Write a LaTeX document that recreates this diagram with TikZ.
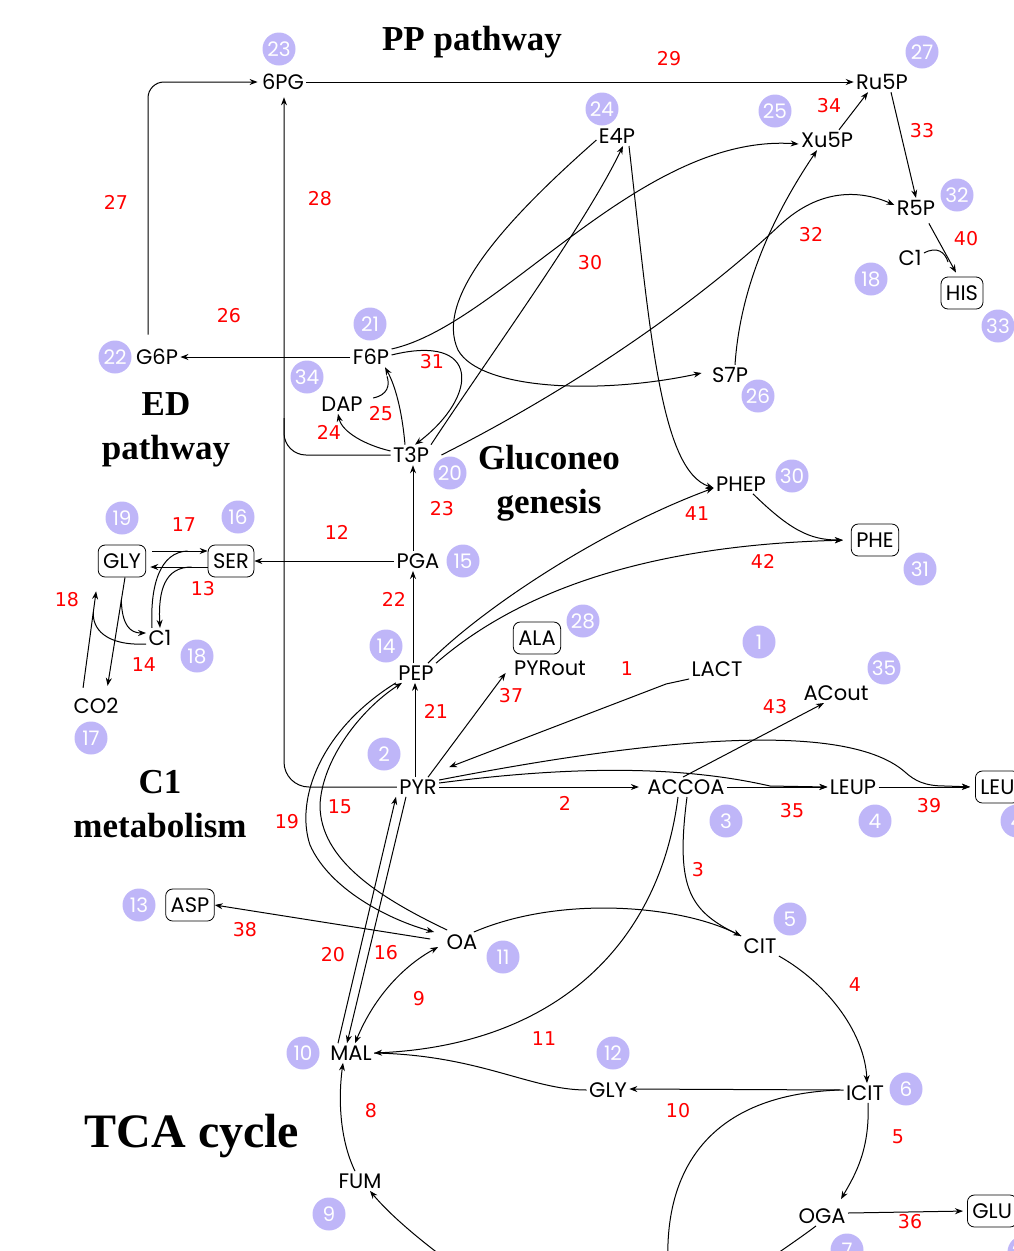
\documentclass[tikz,border=0pt]{standalone}
\usepackage{fontspec}
\setmainfont{Liberation Serif}
\newfontfamily\metfont{Poppins}
\newfontfamily\numfont{DejaVu Sans}
\usepackage{tikz}
\usetikzlibrary{arrows.meta}
\definecolor{idpurple}{RGB}{191,182,248}

\tikzset{
    met/.style={font=\metfont\fontsize{21}{21}\selectfont, inner sep=2pt},
    aa/.style={met, draw, rounded corners=7pt, inner xsep=5pt, minimum height=32pt, line width=0.8pt},
    rxn/.style={font=\numfont\fontsize{19}{19}\selectfont, text=red},
    idx/.style={circle, fill=idpurple, minimum size=33pt, inner sep=0pt, text=white, font=\metfont\fontsize{20}{20}\selectfont},
    title/.style={font=\bfseries\fontsize{35}{44}\selectfont, align=center},
    flux/.style={-{Stealth[length=8pt,width=6pt]}},
    rev/.style={{Stealth[length=8pt,width=6pt]}-{Stealth[length=8pt,width=6pt]}},
}

\begin{document}
\begin{tikzpicture}[x=1pt, y=-1pt, line width=1pt]
    \useasboundingbox (0,0) rectangle (1014,1251);
    \clip (0,0) rectangle (1014,1251);

    % Section titles
    \node[title] (ttlpp) at (472,42) {PP pathway};
    \node[title] (ttled) at (166,430) {ED\\pathway};
    \node[title] (ttlglc) at (549,483) {Gluconeo\\genesis};
    \node[title] (ttlcone) at (160,804) {C1\\metabolism};
    \node[title, font=\bfseries\fontsize{48}{48}\selectfont] (ttltca) at (192,1136) {TCA cycle};

    % Purple index circles
    \foreach \n/\x/\y [count=\k] in {23/279/49, 27/922/52, 24/602/109, 25/775/111, 32/957/195,
        18/871/279, 33/998/326, 21/370/324, 22/115/357, 34/307/377, 26/758/396, 20/450/473,
        30/792/476, 19/122/518, 16/238/517, 15/463/561, 31/920/569, 28/583/621, 1/759/642,
        14/386/646, 18/197/656, 35/884/668, 17/91/738, 2/384/754, 3/726/821, 4/875/821,
        4/1017/821, 5/790/919, 13/139/905, 11/503/957, 10/303/1053, 12/613/1053, 6/906/1089,
        9/329/1214, 7/847/1250, 29/1024/1252}
        \node[idx] (id\k) at (\x,\y) {\n};

    % Metabolites
    \node[met] (pg6) at (283,82) {6PG};
    \node[met] (ru5p) at (882,82) {Ru5P};
    \node[met] (e4p) at (617,136) {E4P};
    \node[met] (xu5p) at (827,140) {Xu5P};
    \node[met] (r5p) at (916,208) {R5P};
    \node[met] (c1a) at (910,258) {C1};
    \node[aa] (his) at (962,293) {HIS};
    \node[met] (g6p) at (157,357) {G6P};
    \node[met] (f6p) at (371,357) {F6P};
    \node[met] (s7p) at (730,375) {S7P};
    \node[met] (dap) at (342,404) {DAP};
    \node[met] (t3p) at (411,455) {T3P};
    \node[met] (phep) at (741,484) {PHEP};
    \node[aa] (phe) at (875,540) {PHE};
    \node[aa] (gly) at (122,561) {GLY};
    \node[aa] (ser) at (231,561) {SER};
    \node[met] (pga) at (418,561) {PGA};
    \node[met] (c1) at (160,638) {C1};
    \node[aa] (ala) at (537,638) {ALA};
    \node[met] (pyrout) at (550,668) {PYRout};
    \node[met] (lact) at (717,669) {LACT};
    \node[met] (pep) at (416,673) {PEP};
    \node[met] (acout) at (836,693) {ACout};
    \node[met] (co2) at (96,706) {CO2};
    \node[met] (pyr) at (418,787) {PYR};
    \node[met] (accoa) at (686,787) {ACCOA};
    \node[met] (leup) at (853,787) {LEUP};
    \node[aa, anchor=west] (leu) at (975,787) {LEU};
    \node[aa] (asp) at (190,905) {ASP};
    \node[met] (oa) at (462,942) {OA};
    \node[met] (cit) at (760,946) {CIT};
    \node[met] (mal) at (351,1053) {MAL};
    \node[met] (glyb) at (608,1090) {GLY};
    \node[met] (icit) at (865,1093) {ICIT};
    \node[met] (fum) at (360,1181) {FUM};
    \node[met] (oga) at (822,1216) {OGA};
    \node[aa, anchor=west] (glu) at (967,1211) {GLU};

    % Joining points and free ends
    \coordinate (edjoin) at (284,418);
    \coordinate (hisin) at ([xshift=-6pt,yshift=4pt]his.north);
    \coordinate (hisjoin) at (948,262);
    \coordinate (glybr) at (121.3,600);
    \coordinate (co2br) at (93.4,612);
    \coordinate (sucout) at (668,1262);
    \coordinate (ogaout) at (768,1260);
    \coordinate (fumin) at (447,1260);

    % PP and ED pathway
    \draw[flux] (pg6.east) -- (ru5p.west);
    \draw[flux, rounded corners=16pt] ([xshift=-9pt,yshift=12pt]g6p.north) |- ([xshift=-2pt]pg6.west);
    \draw[flux] (f6p.west) -- (g6p.east);
    \draw[flux, rounded corners=25pt] (pyr.west) -| ([xshift=1pt,yshift=-5pt]pg6.south);
    \draw[rounded corners=22pt] (t3p.west) -| (edjoin);
    \draw[flux] ([xshift=12pt]xu5p.north) -- ([xshift=-14pt]ru5p.south);
    \draw[flux] ([xshift=9pt]ru5p.south) -- (r5p.north);
    \draw[flux, shorten <=6pt] ([xshift=10pt]r5p.south) -- (hisin);
    \draw ([yshift=5pt]c1a.east) .. controls (937,246) and (945,252) .. (hisjoin);

    % Transketolase and transaldolase
    \draw[flux] ([yshift=8pt]f6p.east) .. controls (500,325) and (640,133) .. ([yshift=-4pt]xu5p.west);
    \draw[flux] ([yshift=2pt]f6p.east) .. controls (480,333) and (480,395) .. ([xshift=4pt]t3p.north);
    \draw[flux] ([xshift=20pt]t3p.north) .. controls (490,355) and (585,225) .. ([xshift=6pt]e4p.south);
    \draw[flux] ([yshift=-4pt]e4p.west) .. controls (500,225) and (435,300) .. (458,350)
        .. controls (480,390) and (600,395) .. ([xshift=-8pt,yshift=2pt]s7p.west);
    \draw[flux] ([xshift=10pt]t3p.east) .. controls (580,385) and (700,300) .. (780,225)
        .. controls (820,188) and (860,190) .. ([yshift=3pt]r5p.west);
    \draw[flux] ([xshift=5pt]s7p.north) .. controls (740,290) and (770,220) .. ([xshift=-10pt]xu5p.south);

    % Gluconeogenesis
    \draw[flux] (pga.west) -- (ser.east);
    \draw[flux] ([xshift=-5pt]pga.north) -- ([xshift=2pt]t3p.south);
    \draw[flux] ([xshift=-3pt]pep.north) -- ([xshift=-5pt]pga.south);
    \draw[flux] ([xshift=-3pt]pyr.north) -- ([xshift=-1pt]pep.south);
    \draw[flux] ([yshift=4pt]t3p.west) .. controls (365,445) and (342,432) .. ([xshift=-4pt]dap.south);
    \draw[flux] ([xshift=-6pt]t3p.north) .. controls (402,410) and (395,385) .. ([xshift=14pt]f6p.south);
    \draw ([xshift=8pt,yshift=6pt]dap.east) .. controls (388,395) and (390,385) .. ([xshift=16pt,yshift=-9pt]f6p.south);

    % Aromatics
    \draw[flux] ([xshift=12pt]e4p.south) .. controls (650,330) and (660,470) .. ([yshift=-4pt]phep.west);
    \draw[flux] ([xshift=12pt]pep.north) .. controls (480,610) and (600,530) .. ([yshift=-4pt]phep.west);
    \draw[flux, shorten >=8pt] ([xshift=20pt]pep.north) .. controls (520,590) and (650,545) .. (phe.west);
    \draw[flux, shorten >=8pt] ([xshift=12pt]phep.south) .. controls (790,530) and (810,540) .. (phe.west);

    % Anaplerotic reactions
    \draw[flux] (pep.south west) .. controls (320,730) and (295,800) .. (310,845)
        .. controls (330,890) and (390,920) .. ([xshift=-10pt]oa.north west);
    \draw[flux] ([xshift=3pt,yshift=2pt]oa.north west) .. controls (380,898) and (320,860) .. (320,805)
        .. controls (322,760) and (360,710) .. ([xshift=-14pt]pep.south);
    \draw[flux] ([xshift=-13pt]mal.north) -- ([xshift=-22pt]pyr.south);
    \draw[flux] ([xshift=-12pt]pyr.south) -- ([xshift=-4pt]mal.north);
    \draw[rev] ([xshift=4pt]mal.north) .. controls (375,995) and (405,965) .. ([xshift=-6pt,yshift=-5pt]oa.west);
    \draw[flux] ([xshift=-14pt,yshift=3pt]oa.west) -- (asp.east);

    % TCA cycle and glyoxylate shunt
    \draw[flux] ([xshift=-6pt]oa.north east) .. controls (560,895) and (680,905) .. (cit.north west);
    \draw ([xshift=1pt]accoa.south) .. controls (675,890) and (690,912) .. (cit.north west);
    \draw[flux] ([xshift=-8pt]accoa.south) .. controls (660,940) and (560,1045) .. (mal.east);
    \draw (glyb.west) .. controls (530,1090) and (480,1055) .. (mal.east);
    \draw[flux] ([yshift=3pt]icit.west) -- ([yshift=1pt]glyb.east);
    \draw ([xshift=-4pt,yshift=3pt]icit.west) .. controls (700,1095) and (665,1180) .. (sucout);
    \draw ([xshift=-6pt]oga.south) .. controls (800,1238) and (785,1248) .. (ogaout);
    \draw[flux] (fumin) .. controls (420,1240) and (390,1215) .. ([xshift=10pt]fum.south);
    \draw[flux] ([xshift=-5pt]fum.north) .. controls (340,1140) and (338,1100) .. ([xshift=-8pt]mal.south);
    \draw[flux] (cit.south east) .. controls (830,985) and (865,1035) .. ([xshift=2pt]icit.north);
    \draw[flux, shorten >=8pt] ([xshift=3pt]icit.south) .. controls (870,1150) and (855,1175) .. ([xshift=15pt]oga.north);
    \draw[flux, shorten >=4pt] ([yshift=3pt]oga.east) -- (glu.west);

    % Pyruvate branches
    \draw[flux, shorten >=6pt] (pyr.east) -- (accoa.west);
    \draw[flux] ([yshift=4pt]pyr.east) .. controls (600,762) and (700,770) .. (770,786) -- (leup.west);
    \draw[flux] (accoa.east) -- (leup.west);
    \draw[flux, shorten >=5pt] ([yshift=7pt]pyr.east) .. controls (620,745) and (840,715) .. (905,772)
        .. controls (915,781) and (925,786) .. (945,786) -- (leu.west);
    \draw[flux, shorten >=5pt] (leup.east) -- (leu.west);
    \draw[flux] ([xshift=-3pt]accoa.north) -- ([xshift=-12pt]acout.south);
    \draw[flux] (lact.south west) -- ([xshift=-23pt,yshift=-5pt]lact.south west) -- ([xshift=10pt,yshift=10pt]pyr.north east);
    \draw[flux] ([xshift=10pt]pyr.north) -- ([xshift=-6pt,yshift=5pt]pyrout.south west);

    % C1 metabolism
    \draw[flux] ([xshift=6pt,yshift=10pt]gly.east) -- ([yshift=10pt]ser.west);
    \draw ([xshift=-8pt]c1.north) .. controls (150,585) and (160,552) .. ([xshift=-20pt,yshift=10pt]ser.west);
    \draw[flux] ([yshift=-6pt]ser.west) -- ([xshift=4pt,yshift=-6pt]gly.east);
    \draw[flux] ([xshift=-16pt,yshift=-6pt]ser.west) .. controls (165,567) and (158,590) .. (c1.north);
    \draw[flux, shorten >=10pt] ([xshift=3pt]gly.south) -- ([xshift=10pt]co2.north);
    \draw[flux] (glybr) .. controls (122,625) and (130,633) .. ([yshift=5pt]c1.west);
    \draw[flux, shorten <=8pt, shorten >=14pt] ([xshift=-14pt]co2.north) -- ([xshift=-24pt]gly.south);
    \draw ([yshift=-6pt]c1.west) .. controls (105,646) and (92,628) .. (co2br);

    % Reaction numbers
    \foreach \n/\x/\y in {29/669/59, 34/829/106, 33/922/131, 27/116/202, 28/320/199, 32/811/235,
        40/966/239, 30/590/263, 26/229/316, 31/432/362, 25/381/414, 24/329/432, 23/442/509,
        41/697/514, 17/184/525, 12/337/532, 42/763/561, 13/203/589, 18/67/600, 22/394/599,
        14/144/665, 1/627/669, 37/511/696, 43/775/707, 21/436/711, 2/565/803, 15/340/807,
        35/792/811, 39/929/806, 19/287/822, 3/698/870, 38/245/930, 20/333/955, 16/386/953,
        4/855/985, 9/419/999, 11/544/1039, 8/371/1111, 10/678/1111, 5/898/1137, 36/910/1222}
        \node[rxn] (r\n) at (\x,\y) {\n};

\end{tikzpicture}
\end{document}
